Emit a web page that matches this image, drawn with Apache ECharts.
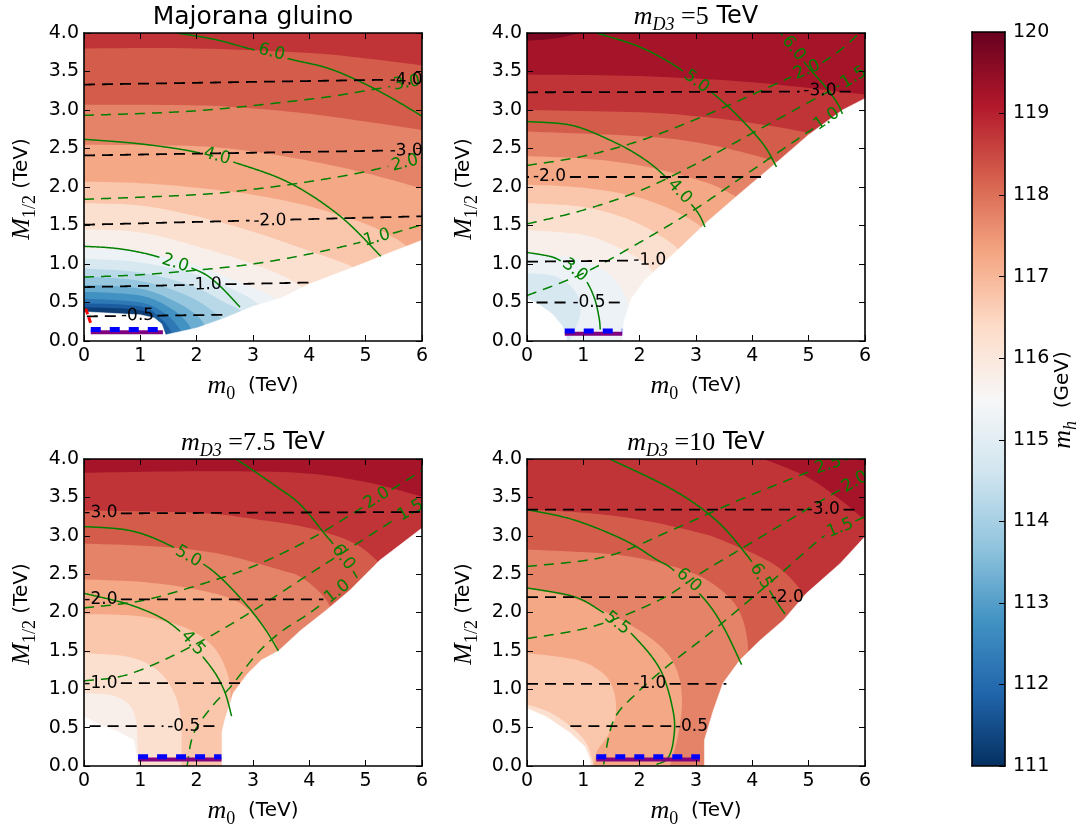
<!DOCTYPE html>
<html>
<head>
<meta charset="utf-8">
<script src="https://cdn.jsdelivr.net/npm/echarts@6/dist/echarts.min.js"></script>
<style>
html,body{margin:0;padding:0;background:#fff;}
#chart{width:1090px;height:828px;}
</style>
</head>
<body>
<div id="chart"></div>
<script>
// ---------------- data (m0, M1/2 in TeV; levels in GeV) ----------------
const cbTicks = [111, 112, 113, 114, 115, 116, 117, 118, 119, 120];

// Panel 1: Majorana gluino
const p1Base = 111.0;
const p1Contours = [
  [111.5, [[0,0.44],[1,0.4],[1.3,0.26],[1.48,0.08],[1.5,0]]],
  [112.0, [[0,0.49],[1,0.45],[1.35,0.3],[1.55,0.12],[1.6,0]]],
  [112.5, [[0,0.55],[1,0.5],[1.45,0.35],[1.7,0.15],[1.75,0]]],
  [113.0, [[0,0.64],[1,0.59],[1.55,0.42],[1.85,0.22],[1.95,0.05]]],
  [113.5, [[0,0.73],[1,0.68],[1.65,0.5],[2.05,0.3],[2.2,0.1]]],
  [114.0, [[0,0.84],[1,0.78],[1.8,0.6],[2.3,0.38],[2.5,0.2],[2.5,0.05]]],
  [114.5, [[0,0.94],[1,0.89],[1.9,0.72],[2.5,0.5],[2.8,0.38],[2.9,0.2]]],
  [115.0, [[0,1.07],[1,1.02],[2,0.86],[2.7,0.65],[3.1,0.48],[3.3,0.3]]],
  [115.5, [[0,1.2],[1,1.16],[2,0.98],[2.8,0.75],[3.4,0.55],[3.7,0.3]]],
  [116.0, [[0,1.45],[1,1.41],[2,1.23],[3,1.0],[3.7,0.78],[4.2,0.5]]],
  [116.5, [[0,1.79],[1,1.76],[2,1.62],[3,1.42],[4,1.17],[4.8,0.95],[5.2,0.7]]],
  [117.0, [[0,2.07],[1,2.05],[2,1.99],[3,1.9],[4,1.75],[5,1.52],[5.6,1.3],[6,1.05]]],
  [117.5, [[0,2.55],[2,2.53],[3,2.46],[4,2.34],[5,2.18],[6,1.98]]],
  [118.0, [[0,3.07],[2,3.06],[3,3.02],[4,2.95],[5,2.85],[6,2.74]]],
  [118.5, [[0,3.8],[2,3.8],[4,3.74],[5,3.67],[6,3.58]]]
];
const p1Masks = [
  [[0,0],[0,0.38],[0.5,0.36],[1.0,0.34],[1.25,0.3],[1.38,0.22],[1.45,0.08],[2,0.17],[2.5,0.3],[3,0.45],[3.5,0.56],[4,0.74],[4.5,0.88],[5,1.02],[5.3,1.11],[6,1.31],[6,0]]
];
const p1Black = [
  {lab:'-4.0', at:[5.72,3.39], pts:[[0,3.33],[6,3.4]]},
  {lab:'-3.0', at:[5.72,2.47], pts:[[0,2.41],[6,2.48]]},
  {lab:'-2.0', at:[3.3,1.56], pts:[[0,1.51],[6,1.62]]},
  {lab:'-1.0', at:[2.15,0.73], pts:[[0,0.7],[4.05,0.76]]},
  {lab:'-0.5', at:[0.95,0.33], pts:[[0.05,0.32],[2.5,0.34]]}
];
const p1GreenSolid = [
  {lab:'6.0', at:[3.33,3.75], pts:[[1.64,4.0],[2.3,3.92],[2.92,3.8],[3.72,3.65],[4.3,3.55],[4.84,3.39],[5.4,3.18],[6,2.92]]},
  {lab:'4.0', at:[2.36,2.4], pts:[[0,2.62],[1,2.56],[1.94,2.46],[2.71,2.31],[3.66,2.05],[4.55,1.62],[5.27,1.1]]},
  {lab:'2.0', at:[1.62,1.01], pts:[[0,1.23],[0.6,1.2],[1.23,1.11],[2.0,0.92],[2.36,0.75],[2.77,0.44]]}
];
const p1GreenDashed = [
  {lab:'3.0', at:[5.73,3.35], pts:[[0,2.93],[2,2.99],[4,3.14],[5,3.25],[6,3.38]]},
  {lab:'2.0', at:[5.7,2.31], pts:[[0,1.84],[2,1.9],[3,1.97],[4,2.07],[5,2.2],[6,2.38]]},
  {lab:'1.0', at:[5.2,1.34], pts:[[0,0.83],[1,0.86],[2,0.92],[3,1.0],[4,1.13],[5,1.3],[6,1.51]]}
];
const p1Bar = [0.12, 1.4, 0.15];
const p1Red = [[0.03,0.42],[0.12,0.23]];

// Panel 2: mD3 = 5 TeV
const p2Base = 114.5;
const p2Contours = [
  [115.0, [[0,0.88],[0.5,0.84],[0.85,0.65],[0.95,0.4],[0.85,0.15],[0.75,0]]],
  [115.5, [[0,1.14],[0.8,1.08],[1.4,0.9],[1.7,0.65],[1.85,0.35],[1.9,0]]],
  [116.0, [[0,1.44],[1,1.38],[1.6,1.22],[2.1,1.0],[2.4,0.7],[2.5,0.3],[2.5,0]]],
  [116.5, [[0,1.79],[1,1.74],[1.8,1.58],[2.4,1.35],[2.8,1.1],[3.1,0.7]]],
  [117.0, [[0,2.03],[1,1.99],[2,1.86],[2.8,1.62],[3.3,1.35],[3.8,0.9]]],
  [117.5, [[0,2.4],[1,2.37],[2,2.28],[3,2.1],[3.6,1.92],[4.2,1.6],[4.6,1.2]]],
  [118.0, [[0,2.72],[2,2.66],[3,2.58],[4,2.42],[5,2.2],[6,1.9]]],
  [118.5, [[0,3.0],[2,2.97],[3,2.92],[4,2.83],[5,2.7],[6,2.5]]],
  [119.0, [[0,3.46],[2,3.44],[4,3.36],[6,3.2]]],
  [119.5, [[0,3.9],[0.5,3.93],[0.95,4.0]]]
];
const p2Masks = [
  [[0,0],[0,0.55],[0.2,0.48],[0.45,0.35],[0.62,0.2],[0.7,0.05],[0.7,0]],
  [[1.7,0],[1.72,0.25],[1.85,0.55],[2.1,0.8],[2.6,1.13],[3.2,1.55],[3.8,1.93],[4.4,2.3],[5,2.68],[5.6,3.0],[6,3.15],[6,0]]
];
const p2Black = [
  {lab:'-3.0', at:[5.2,3.25], pts:[[0,3.23],[5.85,3.24]]},
  {lab:'-2.0', at:[0.4,2.13], pts:[[0,2.13],[4.2,2.13]]},
  {lab:'-1.0', at:[2.18,1.05], pts:[[0,1.03],[2.5,1.05]]},
  {lab:'-0.5', at:[1.1,0.5], pts:[[0.17,0.5],[1.75,0.5]]}
];
const p2GreenSolid = [
  {lab:'5.0', at:[3.01,3.37], pts:[[1.23,4.0],[2.0,3.82],[2.68,3.55],[3.36,3.18],[3.8,2.88],[4.2,2.55],[4.43,2.26]]},
  {lab:'4.0', at:[2.71,1.94], pts:[[0,2.85],[0.8,2.8],[1.5,2.6],[2.0,2.4],[2.42,2.16],[2.98,1.72],[3.16,1.48]]},
  {lab:'6.0', at:[4.73,3.8], pts:[[4.5,4.0],[4.75,3.78],[5.0,3.55],[5.3,3.3],[5.5,3.1],[5.6,2.95]]},
  {lab:'3.0', at:[0.85,0.92], pts:[[0,1.15],[0.4,1.1],[0.6,1.04],[0.85,0.92],[1.05,0.78],[1.2,0.55],[1.28,0.3],[1.3,0.15]]}
];
const p2GreenDashed = [
  {lab:'2.0', at:[4.97,3.52], pts:[[0,2.28],[1,2.4],[2,2.6],[3,2.88],[4,3.2],[4.75,3.45],[5.2,3.6],[5.6,3.8],[5.9,4.0]]},
  {lab:'1.5', at:[5.8,3.42], pts:[[0,1.52],[1,1.7],[2,1.95],[3,2.3],[4,2.7],[5,3.1],[5.5,3.3],[6,3.52]]},
  {lab:'1.0', at:[5.32,2.88], pts:[[0,0.59],[1,0.88],[2,1.28],[3,1.72],[4,2.22],[5,2.72],[5.5,2.97]]}
];
const p2Bar = [0.67, 1.69, 0.13];

// Panel 3: mD3 = 7.5 TeV
const p3Base = 115.5;
const p3Contours = [
  [116.0, [[0,0.95],[0.5,0.92],[0.8,0.8],[0.92,0.6],[0.95,0.3],[0.96,0]]],
  [116.5, [[0,1.47],[0.8,1.42],[1.3,1.25],[1.6,0.95],[1.72,0.6],[1.73,0]]],
  [117.0, [[0,1.98],[1,1.95],[1.8,1.8],[2.3,1.55],[2.55,1.2],[2.6,0.9],[2.55,0.5],[2.5,0]]],
  [117.5, [[0,2.43],[1,2.4],[2,2.3],[2.7,2.15],[3.1,1.9],[3.4,1.6],[3.5,1.3]]],
  [118.0, [[0,2.9],[1.5,2.85],[2.5,2.75],[3.5,2.55],[3.83,2.47],[4.2,2.25],[4.4,2.0],[4.5,1.5]]],
  [118.5, [[0,3.33],[2,3.3],[3,3.22],[4,3.1],[4.8,2.9],[5.3,2.6],[5.6,2.3]]],
  [119.0, [[0,3.82],[2,3.84],[3.8,3.82],[5,3.7],[6,3.51]]]
];
const p3Masks = [
  [[0,0],[0,0.64],[0.3,0.53],[0.6,0.45],[0.88,0.34],[0.94,0.1],[0.94,0]],
  [[2.45,0],[2.45,0.45],[2.5,0.6],[2.65,0.95],[2.9,1.2],[3.15,1.38],[3.45,1.5],[3.85,1.77],[4.3,2.03],[4.72,2.29],[5.25,2.68],[6,3.1],[6,0]]
];
const p3Black = [
  {lab:'-3.0', at:[0.3,3.3], pts:[[0,3.29],[6,3.31]]},
  {lab:'-2.0', at:[0.3,2.17], pts:[[0,2.17],[4.25,2.17]]},
  {lab:'-1.0', at:[0.3,1.08], pts:[[0,1.08],[2.85,1.08]]},
  {lab:'-0.5', at:[1.77,0.52], pts:[[0.1,0.52],[2.42,0.52]]}
];
const p3GreenSolid = [
  {lab:'5.0', at:[1.85,2.73], pts:[[0,3.12],[0.8,3.07],[1.45,2.9],[2.22,2.58],[2.8,2.17],[3.2,1.8],[3.45,1.5]]},
  {lab:'4.5', at:[1.93,1.6], pts:[[0,2.25],[0.9,2.08],[1.6,1.82],[2.2,1.34],[2.48,1.0],[2.62,0.65]]},
  {lab:'6.0', at:[4.6,2.72], pts:[[2.7,4.0],[3.4,3.65],[3.85,3.4],[4.3,3.0],[4.62,2.72],[4.85,2.45]]}
];
const p3GreenDashed = [
  {lab:'2.0', at:[5.2,3.49], pts:[[0,2.06],[1,2.15],[2,2.35],[3,2.6],[4,2.95],[4.9,3.35],[5.5,3.62],[6,3.85]]},
  {lab:'1.5', at:[5.8,3.33], pts:[[0,1.11],[0.77,1.19],[1.78,1.51],[2.84,1.95],[4.0,2.5],[5.0,2.97],[5.6,3.25],[6,3.42]]},
  {lab:'1.0', at:[4.5,2.27], pts:[[1.83,0],[1.95,0.43],[2.3,0.8],[2.6,1.03],[3.08,1.47],[3.5,1.75],[4.0,1.99],[4.5,2.27]]}
];
const p3Bar = [0.96, 2.44, 0.12];

// Panel 4: mD3 = 10 TeV
const p4Base = 116.0;
const p4Contours = [
  [116.5, [[0,0.8],[0.4,0.7],[0.8,0.5],[1.05,0.3],[1.15,0.1],[1.17,0]]],
  [117.0, [[0,1.47],[0.89,1.38],[1.36,1.2],[1.55,0.95],[1.57,0.64],[1.42,0.38],[1.24,0.19],[1.18,0]]],
  [117.5, [[0,2.32],[0.89,2.17],[1.78,1.86],[2.37,1.56],[2.66,1.25],[2.75,0.86],[2.69,0.43],[2.54,0]]],
  [118.0, [[0,2.82],[1.5,2.76],[2.5,2.62],[3.2,2.42],[3.7,2.1],[3.9,1.7],[3.9,1.3],[3.7,1.0]]],
  [118.5, [[0,3.34],[1,3.3],[2,3.21],[3,3.05],[3.5,2.93],[4.4,2.62],[4.9,2.25],[5.1,1.9],[5.2,1.5]]],
  [119.0, [[4.2,4.0],[4.96,3.77],[5.56,3.47],[6,3.2]]]
];
const p4Masks = [
  [[0,0],[0,0.75],[0.35,0.64],[0.77,0.43],[1.03,0.25],[1.12,0.08],[1.13,0]],
  [[3.15,0],[3.15,0.34],[3.31,0.73],[3.48,1.08],[3.78,1.38],[4.14,1.64],[4.55,1.9],[4.96,2.25],[5.56,2.64],[6,2.99],[6,0]]
];
const p4Black = [
  {lab:'-3.0', at:[5.26,3.34], pts:[[0,3.34],[5.85,3.34]]},
  {lab:'-2.0', at:[4.62,2.2], pts:[[0,2.2],[4.95,2.2]]},
  {lab:'-1.0', at:[2.18,1.07], pts:[[0,1.07],[3.54,1.07]]},
  {lab:'-0.5', at:[2.92,0.52], pts:[[0.77,0.52],[3.2,0.52]]}
];
const p4GreenSolid = [
  {lab:'6.0', at:[2.87,2.42], pts:[[0,3.34],[0.82,3.21],[1.71,2.95],[2.3,2.69],[2.59,2.56],[3.13,2.19],[3.48,1.82],[3.81,1.32]]},
  {lab:'6.5', at:[4.15,2.47], pts:[[1.47,4.0],[2.59,3.6],[3.36,3.2],[3.9,2.75],[4.15,2.47],[4.43,2.14],[4.58,1.98]]},
  {lab:'5.5', at:[1.6,1.86], pts:[[0,2.32],[0.82,2.21],[1.29,2.03],[1.6,1.86],[1.9,1.69],[2.37,1.25],[2.6,0.69],[2.6,0.34],[2.5,0.1],[2.3,0.02]]}
];
const p4GreenDashed = [
  {lab:'2.5', at:[5.35,3.92], pts:[[0,2.6],[1.41,2.73],[2.59,3.08],[3.78,3.47],[4.96,3.82],[5.35,3.92],[5.7,4.0]]},
  {lab:'2.0', at:[5.82,3.7], pts:[[0,1.66],[1.18,1.82],[2.37,2.17],[3.08,2.51],[3.78,2.82],[4.96,3.34],[5.56,3.6],[5.82,3.7],[6,3.78]]},
  {lab:'1.5', at:[5.56,3.1], pts:[[1.36,0.02],[1.54,0.6],[1.95,0.95],[2.49,1.3],[3.31,1.77],[4.38,2.43],[5.26,2.99],[5.56,3.1],[6,3.25]]}
];
const p4Bar = [1.23, 3.07, 0.12];

// ---------------- styling helpers ----------------
const SANS = '"DejaVu Sans", sans-serif';
const SERIF = '"Liberation Serif", "DejaVu Serif", serif';
const GREEN = '#008000';
// RdBu_r colour map nodes, 111 GeV -> 120 GeV
const CMAP = ['#053061','#2166ac','#4393c3','#92c5de','#d1e5f0','#f7f7f7','#fddbc7','#f4a582','#d6604d','#b2182b','#67001f'];
const VMIN = cbTicks[0], VMAX = cbTicks[cbTicks.length - 1];
function hex2rgb(h){ return [1,3,5].map(i => parseInt(h.substr(i,2),16)); }
function cmap(v){
  let t = (v - VMIN) / (VMAX - VMIN) * 10;
  t = Math.max(0, Math.min(10, t));
  const i = Math.min(9, Math.floor(t)), f = t - i;
  const a = hex2rgb(CMAP[i]), b = hex2rgb(CMAP[i+1]);
  return 'rgb(' + a.map((c,k) => Math.round(c + (b[k]-c)*f)).join(',') + ')';
}
const bandColor = lvl => cmap(lvl + 0.25);   // filled band [lvl, lvl+0.5]

const XMAX = 6, YMAX = 4;
const panels = [
  {grid:{left:84,  top:33,  width:338, height:308}, base:p1Base, contours:p1Contours, masks:p1Masks, black:p1Black, gs:p1GreenSolid, gd:p1GreenDashed, bar:p1Bar, red:p1Red},
  {grid:{left:527, top:33,  width:338, height:308}, base:p2Base, contours:p2Contours, masks:p2Masks, black:p2Black, gs:p2GreenSolid, gd:p2GreenDashed, bar:p2Bar},
  {grid:{left:84,  top:459, width:338, height:307}, base:p3Base, contours:p3Contours, masks:p3Masks, black:p3Black, gs:p3GreenSolid, gd:p3GreenDashed, bar:p3Bar},
  {grid:{left:527, top:459, width:338, height:307}, base:p4Base, contours:p4Contours, masks:p4Masks, black:p4Black, gs:p4GreenSolid, gd:p4GreenDashed, bar:p4Bar}
];

// smooth drawing path through pixel points (Catmull-Rom), like a smoothed line
function smoothPath(pts, seg){
  if (pts.length < 3) return pts.slice();
  const out = [];
  for (let i = 0; i < pts.length - 1; i++){
    const p0 = pts[i-1] || pts[i], p1 = pts[i], p2 = pts[i+1], p3 = pts[i+2] || pts[i+1];
    for (let s = 0; s < seg; s++){
      const t = s / seg, t2 = t*t, t3 = t2*t;
      out.push([0,1].map(d => 0.5 * (2*p1[d] + (-p0[d] + p2[d])*t +
        (2*p0[d] - 5*p1[d] + 4*p2[d] - p3[d])*t2 + (-p0[d] + 3*p1[d] - 3*p2[d] + p3[d])*t3)));
    }
  }
  out.push(pts[pts.length-1]);
  return out;
}

// filled contour bands: each level paints the region above/right of its contour
function renderBands(p, api){
  const kids = [];
  const tl = api.coord([0, YMAX]), br = api.coord([XMAX, 0]);
  kids.push({type:'rect', shape:{x:tl[0], y:tl[1], width:br[0]-tl[0], height:br[1]-tl[1]}, style:{fill:bandColor(p.base)}});
  p.contours.forEach(([lvl, pts]) => {
    const poly = smoothPath(pts.map(q => api.coord(q)), 10);
    if (pts[pts.length-1][1] < YMAX - 1e-3) poly.push(api.coord([XMAX, 0]));
    poly.push(api.coord([XMAX, YMAX]), api.coord([0, YMAX]));
    kids.push({type:'polygon', shape:{points:poly}, style:{fill:bandColor(lvl)}});
  });
  return {type:'group', children:kids};
}

// region outside the computed parameter space
function renderMasks(p, api){
  return {type:'group', children:p.masks.map(m => ({
    type:'polygon', shape:{points:m.map(q => api.coord(q))}, style:{fill:'#ffffff', stroke:'#ffffff', lineWidth:0.5}
  }))};
}

function textWidth(s, fs){
  let w = 0;
  for (const ch of s) w += (ch === '.') ? 0.318 : (ch === '-') ? 0.361 : 0.636;
  return w * fs;
}

// contour lines with inline labels
function contourGroup(lines, api, color, width, dash){
  const kids = [];
  const FS = 17;
  lines.forEach(L => {
    const pix = smoothPath(L.pts.map(q => api.coord(q)), 8);
    const dense = [];
    for (let k = 0; k < pix.length - 1; k++){
      const a = pix[k], b = pix[k+1];
      const n = Math.max(1, Math.ceil(Math.hypot(b[0]-a[0], b[1]-a[1])));
      for (let s = 0; s < n; s++) dense.push([a[0] + (b[0]-a[0])*s/n, a[1] + (b[1]-a[1])*s/n]);
    }
    dense.push(pix[pix.length-1]);
    const keep = dense.map(() => true);
    let label = null;
    if (L.lab){
      const c = api.coord(L.at);
      let best = 0, bd = Infinity;
      dense.forEach((q,k) => { const d = Math.hypot(q[0]-c[0], q[1]-c[1]); if (d < bd){ bd = d; best = k; } });
      const q0 = dense[Math.max(0, best-6)], q1 = dense[Math.min(dense.length-1, best+6)];
      let ang = Math.atan2(q1[1]-q0[1], q1[0]-q0[0]);
      if (ang > Math.PI/2) ang -= Math.PI;
      if (ang < -Math.PI/2) ang += Math.PI;
      const ux = Math.cos(ang), uy = Math.sin(ang);
      const hw = textWidth(L.lab, FS)/2 + 3;
      dense.forEach((q,k) => {
        const dx = q[0]-c[0], dy = q[1]-c[1];
        const al = dx*ux + dy*uy, pe = -dx*uy + dy*ux;
        if (Math.abs(al) < hw && Math.abs(pe) < 10) keep[k] = false;
      });
      label = {type:'text', x:c[0], y:c[1], rotation:-ang,
        style:{text:L.lab, fill:color, font:FS + 'px ' + SANS, align:'center', verticalAlign:'middle'}};
    }
    let run = [];
    const flush = () => {
      if (run.length > 1) kids.push({type:'polyline', shape:{points:run},
        style:{stroke:color, lineWidth:width, lineDash:dash, fill:null}});
      run = [];
    };
    dense.forEach((q,k) => { if (keep[k]) run.push(q); else flush(); });
    flush();
    if (label) kids.push(label);
  });
  return kids;
}
function renderLines(p, api){
  const kids = []
    .concat(contourGroup(p.gd, api, GREEN, 1.5, [10, 7]))
    .concat(contourGroup(p.gs, api, GREEN, 1.5, null))
    .concat(contourGroup(p.black, api, '#000000', 1.8, [11, 7]));
  return {type:'group', children:kids};
}

// ---------------- axes ----------------
const xAxes = [], yAxes = [], grids = [], series = [];
const axisLineStyle = {show:true, onZero:false, lineStyle:{color:'#000', width:1.6}};
const tickStyle = {show:true, inside:true, length:6, lineStyle:{color:'#000', width:1}};
const labelStyle = {color:'#000', fontSize:19, fontFamily:SANS};

panels.forEach((p, i) => {
  grids.push(p.grid);
  xAxes.push({type:'value', gridIndex:i, min:0, max:XMAX, interval:1, position:'bottom', z:10,
    axisLine:axisLineStyle, axisTick:tickStyle, splitLine:{show:false},
    axisLabel:Object.assign({margin:6}, labelStyle)});
  xAxes.push({type:'value', gridIndex:i, min:0, max:XMAX, interval:1, position:'top', z:10,
    axisLine:axisLineStyle, axisTick:tickStyle, splitLine:{show:false}, axisLabel:{show:false}});
  yAxes.push({type:'value', gridIndex:i, min:0, max:YMAX, interval:0.5, position:'left', z:10,
    axisLine:axisLineStyle, axisTick:tickStyle, splitLine:{show:false},
    axisLabel:Object.assign({margin:5, formatter:v => v.toFixed(1)}, labelStyle)});
  yAxes.push({type:'value', gridIndex:i, min:0, max:YMAX, interval:0.5, position:'right', z:10,
    axisLine:axisLineStyle, axisTick:tickStyle, splitLine:{show:false}, axisLabel:{show:false}});

  const ax = {xAxisIndex:2*i, yAxisIndex:2*i};
  series.push(Object.assign({type:'custom', data:[[0,0]], clip:true, silent:true, z:1,
    renderItem:(params, api) => renderBands(p, api)}, ax));
  series.push(Object.assign({type:'custom', data:[[0,0]], clip:true, silent:true, z:2,
    renderItem:(params, api) => renderMasks(p, api)}, ax));
  series.push(Object.assign({type:'custom', data:[[0,0]], clip:true, silent:true, z:3,
    renderItem:(params, api) => renderLines(p, api)}, ax));
  series.push(Object.assign({type:'line', silent:true, z:4, symbol:'none', animation:false,
    data:[[p.bar[0], p.bar[2]-0.035], [p.bar[1], p.bar[2]-0.035]],
    lineStyle:{color:'#800080', width:4, cap:'butt'}}, ax));
  series.push(Object.assign({type:'line', silent:true, z:5, symbol:'none', animation:false,
    data:[[p.bar[0], p.bar[2]], [p.bar[1], p.bar[2]]],
    lineStyle:{color:'#0000ff', width:5, type:[10,9], cap:'butt'}}, ax));
  if (p.red){
    series.push(Object.assign({type:'line', silent:true, z:5, symbol:'none', animation:false,
      data:p.red, lineStyle:{color:'#ff0000', width:3, type:[6,3]}}, ax));
  }
});

// colour bar
const cbi = panels.length;
grids.push({left:972, top:32, width:33, height:734});
xAxes.push({type:'value', gridIndex:cbi, min:0, max:1, position:'bottom', z:10, axisLine:axisLineStyle, axisTick:{show:false}, axisLabel:{show:false}, splitLine:{show:false}});
xAxes.push({type:'value', gridIndex:cbi, min:0, max:1, position:'top', z:10, axisLine:axisLineStyle, axisTick:{show:false}, axisLabel:{show:false}, splitLine:{show:false}});
yAxes.push({type:'value', gridIndex:cbi, min:VMIN, max:VMAX, interval:1, position:'left', z:10, axisLine:axisLineStyle, axisTick:{show:false}, axisLabel:{show:false}, splitLine:{show:false}});
yAxes.push({type:'value', gridIndex:cbi, min:VMIN, max:VMAX, interval:1, position:'right', z:10, axisLine:axisLineStyle,
  axisTick:{show:true, inside:true, length:6, lineStyle:{color:'#000', width:1}}, splitLine:{show:false},
  axisLabel:Object.assign({margin:8}, labelStyle)});
series.push({type:'custom', xAxisIndex:2*cbi, yAxisIndex:2*cbi+1, data:[[0,VMIN]], silent:true, z:1,
  renderItem:(params, api) => {
    const a = api.coord([0, VMAX]), b = api.coord([1, VMIN]);
    const stops = CMAP.map((c, k) => ({offset:1 - k/10, color:c}));
    stops.reverse();
    return {type:'rect', shape:{x:a[0], y:a[1], width:b[0]-a[0], height:b[1]-a[1]},
      style:{fill:{type:'linear', x:0, y:0, x2:0, y2:1, colorStops:stops}}};
  }});

// ---------------- titles and axis names ----------------
const rich = {
  mi:  {fontFamily:SERIF, fontStyle:'italic', fontSize:26, lineHeight:34},
  mr:  {fontFamily:SERIF, fontSize:26, lineHeight:34},
  sub: {fontFamily:SERIF, fontStyle:'italic', fontSize:18, lineHeight:18, verticalAlign:'bottom'},
  subr:{fontFamily:SERIF, fontSize:18, lineHeight:18, verticalAlign:'bottom'},
  t:   {fontFamily:SANS, fontSize:24, lineHeight:34},
  a:   {fontFamily:SANS, fontSize:20, lineHeight:34}
};
function txt(x, y, text, rot){
  return {type:'text', x:x, y:y, rotation:rot || 0, silent:true, z:20,
    style:{text:text, rich:rich, fill:'#000', align:'center', verticalAlign:'middle', font:'24px ' + SANS}};
}
const graphics = [
  {type:'text', x:253, y:17, silent:true, z:20, style:{text:'Majorana gluino', fill:'#000', font:'25px ' + SANS, align:'center', verticalAlign:'middle'}},
  txt(696, 17,  '{mi|m}{sub|D3}{mr| =5}{t| TeV}'),
  txt(253, 443, '{mi|m}{sub|D3}{mr| =7.5}{t| TeV}'),
  txt(696, 443, '{mi|m}{sub|D3}{mr| =10}{t| TeV}')
];
[[253,386],[696,386],[253,811],[696,811]].forEach(([x,y]) => graphics.push(txt(x, y, '{mi|m}{subr|0}{a|  (TeV)}')));
[[22,189],[464,189],[22,614],[464,614]].forEach(([x,y]) => graphics.push(txt(x, y, '{mi|M}{subr|1/2}{a| (TeV)}', Math.PI/2)));
graphics.push(txt(1063, 400, '{mi|m}{sub|h}{a|  (GeV)}', Math.PI/2));

const chart = echarts.init(document.getElementById('chart'), null, {renderer:'canvas'});
chart.setOption({
  backgroundColor:'#ffffff',
  animation:false,
  grid:grids,
  xAxis:xAxes,
  yAxis:yAxes,
  series:series,
  graphic:graphics
});
</script>
</body>
</html>
